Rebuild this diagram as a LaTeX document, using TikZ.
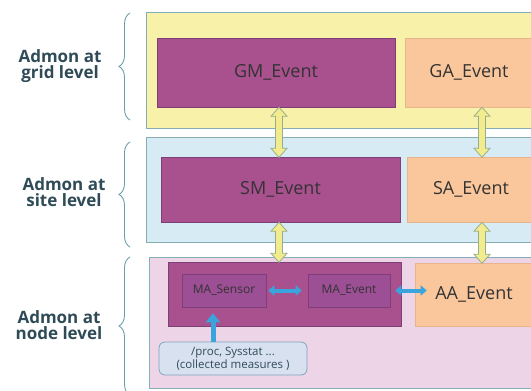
\documentclass[tikz,border=0pt]{standalone}
\usepackage{fontspec}
\setmainfont{Open Sans}
\usetikzlibrary{arrows.meta,decorations.pathreplacing,calc}
\definecolor{bandyellow}{HTML}{F7F1AA}
\definecolor{bandblue}{HTML}{D6EBF4}
\definecolor{bandpink}{HTML}{EED4E7}
\definecolor{magentabox}{HTML}{A9508F}
\definecolor{magentain}{HTML}{9C4F94}
\definecolor{magentaedge}{HTML}{7E3F78}
\definecolor{peach}{HTML}{FAC79C}
\definecolor{peachedge}{HTML}{E8B48A}
\definecolor{bordteal}{HTML}{86AEB6}
\definecolor{labelcol}{HTML}{2F4B57}
\definecolor{txtdark}{HTML}{333333}
\definecolor{arrowblue}{HTML}{3AA5DC}
\definecolor{arrowyellow}{HTML}{F2EC8E}
\definecolor{arrowedge}{HTML}{97AE8C}
\definecolor{procfill}{HTML}{D8E1EF}
\definecolor{procedge}{HTML}{7FA5C0}
\definecolor{bracecol}{HTML}{6E9DB0}
\begin{document}
\begin{tikzpicture}[x=1pt,y=-1pt,
  band/.style={draw=bordteal, line width=0.8pt, inner sep=0pt},
  bigbox/.style={inner sep=0pt, text=txtdark, font=\fontsize{18}{20}\selectfont},
  magbox/.style={bigbox, fill=magentabox, draw=magentaedge, line width=0.6pt},
  peachbox/.style={bigbox, fill=peach, draw=peachedge, line width=0.6pt},
  smallbox/.style={inner sep=0pt, fill=magentain, draw=magentaedge, line width=0.6pt,
    text=txtdark, font=\fontsize{12}{14}\selectfont},
  lvllabel/.style={align=center, text=labelcol, font=\bfseries\fontsize{17}{15.5}\selectfont},
  lvlbrace/.style={draw=bracecol, line width=0.9pt, decorate,
    decoration={brace, amplitude=11pt}},
  yarr/.pic={\draw[draw=arrowedge, fill=arrowyellow, line width=0.8pt]
    (0,0) -- (8,9) -- (3.5,9) -- (3.5,{#1-9}) -- (8,{#1-9}) -- (0,#1)
    -- (-8,{#1-9}) -- (-3.5,{#1-9}) -- (-3.5,9) -- (-8,9) -- cycle;},
  bluearr/.style={draw=arrowblue, line width=4pt},
]
\useasboundingbox (0,0) rectangle (531,391);
\clip (0,0) rectangle (531,391);
% bands
\node[band, fill=bandyellow, minimum width=399pt, minimum height=116pt] (grid) at (345.5,70) {};
\node[band, fill=bandblue, minimum width=399pt, minimum height=105pt] (site) at (345.5,189.5) {};
\node[band, fill=bandpink, minimum width=396pt, minimum height=131pt] (nodeband) at (347,322.5) {};
% grid level
\node[magbox, minimum width=238pt, minimum height=69pt] (GM) at (276,72.5) {GM\_Event};
\node[peachbox, minimum width=128pt, minimum height=69pt] (GA) at (469,72.5) {GA\_Event};
% site level
\node[magbox, minimum width=239pt, minimum height=65pt] (SM) at (280.5,189.5) {SM\_Event};
\node[peachbox, minimum width=128pt, minimum height=65pt] (SA) at (471,189.5) {SA\_Event};
% node level
\node[magbox, minimum width=233pt, minimum height=64pt] (MA) at (284.5,294) {};
\node[smallbox, minimum width=84pt, minimum height=33pt] (MAS) at (224,290.5) {MA\_Sensor};
\node[smallbox, minimum width=82pt, minimum height=33pt] (MAE) at (349,290.5) {MA\_Event};
\node[peachbox, minimum width=118pt, minimum height=63pt] (AA) at (474,294.5) {AA\_Event};
\node[draw=procedge, fill=procfill, line width=0.8pt, rounded corners=6pt,
  minimum width=148pt, minimum height=33pt, inner sep=0pt, align=center,
  text=labelcol, font=\fontsize{11.5}{13.5}\selectfont] (proc) at (233,358.5)
  {/proc, Sysstat ...\\(collected measures )};
% yellow double arrows
\coordinate (xl) at (279,0);
\coordinate (xr) at (482,0);
\pic at (GM.south -| xl) {yarr=50};
\pic at (GA.south -| xr) {yarr=50};
\pic at (SM.south -| xl) {yarr=40};
\pic at (SA.south -| xr) {yarr=41};
% blue arrows
\coordinate (upx) at (213,0);
\draw[bluearr, line width=5pt, -{Triangle[width=14pt,length=9pt]}, shorten >=6pt]
  (proc.north -| upx) -- (MAS.south -| upx);
\draw[bluearr, {Triangle[width=10pt,length=6pt]}-{Triangle[width=10pt,length=6pt]},
  shorten <=2pt, shorten >=6pt] (MAS.east) -- (MAE.west);
\draw[bluearr, {Triangle[width=10pt,length=6pt]}-{Triangle[width=10pt,length=6pt]},
  shorten <=5pt, shorten >=-12pt] (MAE.east) -- (MAE.east -| AA.west);
% braces and labels
\draw[lvlbrace] (130,120) -- (130,13);
\draw[lvlbrace] (130,247) -- (130,142);
\draw[lvlbrace] (130,395) -- (130,257);
\node[lvllabel] (lg) at (60,66) {Admon at\\grid level};
\node[lvllabel] (ls) at (64,192) {Admon at\\site level};
\node[lvllabel] (ln) at (59,325) {Admon at\\node level};
\end{tikzpicture}
\end{document}
